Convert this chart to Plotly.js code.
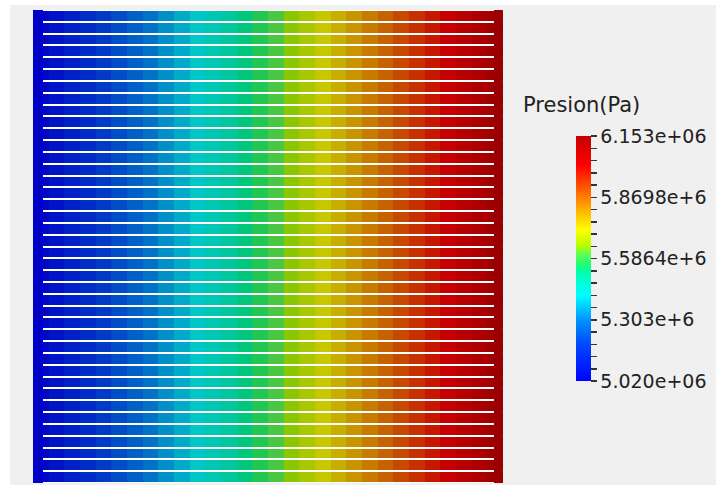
<!DOCTYPE html>
<html><head><meta charset="utf-8">
<script src="https://cdn.plot.ly/plotly-3.0.1.min.js"></script>
<style>
html,body{margin:0;padding:0;background:#ffffff;width:716px;height:485px;overflow:hidden}
#chart{position:absolute;left:10px;top:5px;width:706px;height:480px}
</style></head><body><div id="chart"></div>
<script>
// Cell centres along the channel (cell index units)
const cellPosition = [0.5,1.5,2.5,3.5,4.5,5.5,6.5,7.5,8.5,9.5,10.5,11.5,12.5,13.5,14.5,
  15.5,16.5,17.5,18.5,19.5,20.5,21.5,22.5,23.5,24.5,25.5,26.5,27.5,28.5,29.5];
// Tubes (rows)
const tubeIndex = [1,2,3,4,5,6,7,8,9,10,11,12,13,14,15,16,17,18,19,20,
  21,22,23,24,25,26,27,28,29,30,31,32,33,34,35,36,37,38,39,40];
// Pressure per cell along each tube (Pa)
const pressure = [5038900,5076700,5114400,5152200,5190000,5227700,5265500,5303300,5341000,5378800,
  5416600,5454300,5492100,5529900,5567600,5605400,5643200,5681000,5718700,5756500,
  5794300,5832000,5869800,5907600,5945300,5983100,6020900,6058600,6096400,6134200];
const inletPressure = 5020000;
const outletPressure = 6153000;
const pMin = 5020000, pMax = 6153000;
const tickValues = [5020000, 5303250, 5586500, 5869750, 6153000];
const tickLabels = ['5.020e+06','5.303e+6','5.5864e+6','5.8698e+6','6.153e+06'];
const colorbarTitle = 'Presion(Pa)';

// colour map (style)
const jetStops = [
 [0.00,[0,0,255]],[0.05,[0,25,255]],[0.15,[0,74,255]],[0.25,[0,148,255]],
 [0.35,[0,255,255]],[0.42,[0,255,200]],[0.45,[0,255,158]],[0.483,[43,255,107]],
 [0.517,[94,255,84]],[0.55,[178,255,0]],[0.617,[255,255,0]],[0.88,[255,0,0]],[1.00,[196,0,0]]
];
const shade = 0.78;
const brightScale = jetStops.map(s => [s[0], 'rgb(' + s[1].join(',') + ')']);
const litScale = jetStops.map(s => [s[0], 'rgb(' + s[1].map(c => Math.round(c*shade)).join(',') + ')']);

const z = tubeIndex.map(() => pressure.slice());

// all colorbar ticks: majors plus 4 minors between them
const allTicks = [], allText = [];
for (let i = 0; i < tickValues.length; i++) {
  allTicks.push(tickValues[i]); allText.push(tickLabels[i]);
  if (i < tickValues.length - 1) {
    const step = (tickValues[i+1] - tickValues[i]) / 5;
    for (let k = 1; k < 5; k++) { allTicks.push(tickValues[i] + k*step); allText.push(''); }
  }
}

const nCols = cellPosition.length, nRows = tubeIndex.length;
const traces = [
  { type:'heatmap', x: cellPosition, y: tubeIndex.map(t => t - 0.5), z: z,
    zmin: pMin, zmax: pMax, colorscale: litScale, showscale: false,
    ygap: 2, hoverinfo: 'skip' },
  { type:'heatmap', x: [0, 0.64], y: [0, nRows], z: [[inletPressure]],
    zmin: pMin, zmax: pMax, colorscale: litScale, showscale: false, hoverinfo:'skip' },
  { type:'heatmap', x: [29.42, nCols], y: [0, nRows], z: [[outletPressure]],
    zmin: pMin, zmax: pMax, colorscale: litScale, showscale: false, hoverinfo:'skip' },
  { type:'scatter', mode:'markers', x: cellPosition, y: cellPosition.map(() => nRows/2),
    hoverinfo:'skip', showlegend:false,
    marker: { color: pressure, cmin: pMin, cmax: pMax, colorscale: brightScale, size: 1, opacity: 0,
      showscale: true,
      colorbar: { x: 1.1553, xanchor: 'left', xpad: 0, y: 0.4746, yanchor: 'middle', ypad: 0,
        thickness: 15, thicknessmode: 'pixels', len: 245, lenmode: 'pixels',
        outlinewidth: 0, tickmode: 'array', tickvals: allTicks, ticktext: allText,
        ticks: 'outside', ticklen: 6, tickwidth: 1.5, tickcolor: '#333333',
        tickfont: { family: 'DejaVu Sans', size: 19, color: '#222222' } } } }
];

const layout = {
  width: 706, height: 480,
  margin: { l: 23, r: 213, t: 5, b: 2, pad: 0 },
  paper_bgcolor: '#f0f0f0', plot_bgcolor: '#ffffff',
  showlegend: false,
  xaxis: { range: [0, nCols], visible: false, fixedrange: true },
  yaxis: { range: [0, nRows], visible: false, fixedrange: true },
  annotations: [{ text: colorbarTitle, xref: 'paper', yref: 'paper', x: 1.0383, y: 0.7992,
    xanchor: 'left', yanchor: 'middle', showarrow: false,
    font: { family: 'DejaVu Sans', size: 21, color: '#222222' } }]
};
Plotly.newPlot('chart', traces, layout, { displayModeBar: false, staticPlot: true });
</script></body></html>
